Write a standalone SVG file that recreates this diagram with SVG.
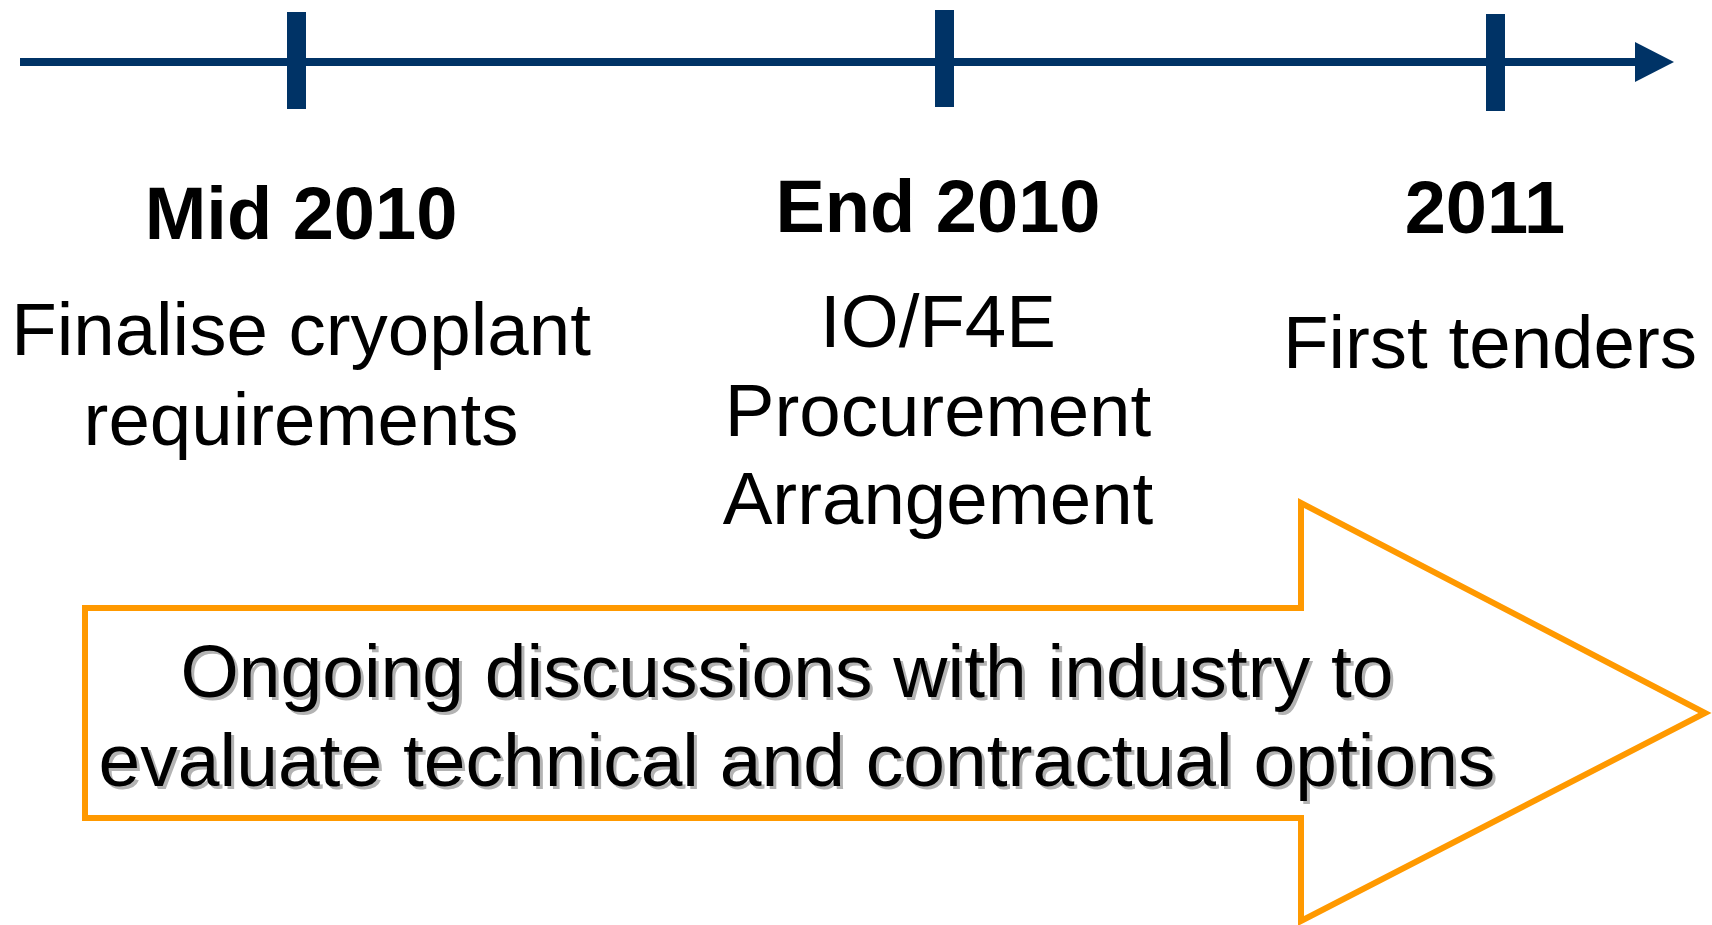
<svg xmlns="http://www.w3.org/2000/svg" width="1712" height="925" viewBox="0 0 1712 925">
<style>
.t{font-family:"Liberation Sans",Arial,sans-serif;font-size:74.5px;fill:#000;text-anchor:middle}
.b{font-weight:bold;font-size:74px}
.a{font-size:75px}
.sh{fill:#b3b3b3}
.tick{fill:#003366}
</style>
<rect width="1712" height="925" fill="#fff"/>
<g id="timeline">
<rect x="20" y="58" width="1617" height="8" fill="#003366"/>
<polygon points="1635,42 1674,62 1635,82" fill="#003366"/>
</g>
<g id="mid2010">
<rect class="tick" x="287" y="12" width="19" height="97"/>
<text class="t b" x="301" y="239">Mid 2010</text>
<text class="t" x="301" y="355">Finalise cryoplant</text>
<text class="t" x="301" y="445">requirements</text>
</g>
<g id="end2010">
<rect class="tick" x="935" y="10" width="19" height="97"/>
<text class="t b" x="938" y="232">End 2010</text>
<text class="t" x="938" y="347">IO/F4E</text>
<text class="t" x="938" y="436">Procurement</text>
<text class="t" x="938" y="524">Arrangement</text>
</g>
<g id="y2011">
<rect class="tick" x="1486" y="14" width="19" height="97"/>
<text class="t b" x="1485" y="233">2011</text>
<text class="t" x="1490" y="368">First tenders</text>
</g>
<g id="ongoing">
<polygon points="85,608 1301,608 1301,503 1705,713 1301,921 1301,818 85,818" fill="#fff" stroke="#ff9900" stroke-width="6"/>
<text class="t a sh" x="790" y="700">Ongoing discussions with industry to</text>
<text class="t a sh" x="800" y="789">evaluate technical and contractual options</text>
<text class="t a" x="787" y="697">Ongoing discussions with industry to</text>
<text class="t a" x="797" y="786">evaluate technical and contractual options</text>
</g>
</svg>
